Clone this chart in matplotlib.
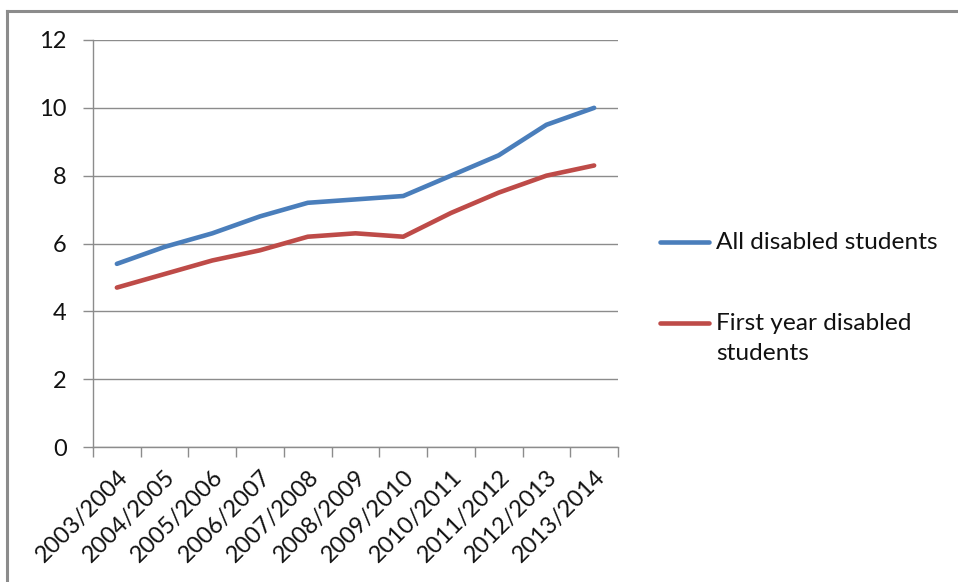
import matplotlib
matplotlib.use("Agg")
import matplotlib.pyplot as plt
from matplotlib.lines import Line2D

years = ["2003/2004", "2004/2005", "2005/2006", "2006/2007", "2007/2008",
         "2008/2009", "2009/2010", "2010/2011", "2011/2012", "2012/2013",
         "2013/2014"]
all_disabled = [5.4, 5.9, 6.3, 6.8, 7.2, 7.3, 7.4, 8.0, 8.6, 9.5, 10.0]
first_year = [4.7, 5.1, 5.5, 5.8, 6.2, 6.3, 6.2, 6.9, 7.5, 8.0, 8.3]
y_ticks = [0, 2, 4, 6, 8, 10, 12]

plt.rcParams['font.family'] = ['Lato', 'DejaVu Sans']

W, H = 958, 582
fig = plt.figure(figsize=(W / 100, H / 100), dpi=100)

# frame lines along the top and left edges of the chart area
fig.add_artist(Line2D([7 / W, 1.0], [1 - 10.5 / H, 1 - 10.5 / H],
                      color="#8c8c8c", lw=2.2, transform=fig.transFigure))
fig.add_artist(Line2D([7 / W, 7 / W], [0.0, 1 - 10.5 / H],
                      color="#8c8c8c", lw=2.2, transform=fig.transFigure))

left, right, top, bottom = 93, 618, 40, 447
ax = fig.add_axes([left / W, 1 - bottom / H, (right - left) / W, (bottom - top) / H])

FS = 17
LEG_FS = 17.6
TXT = "#111111"
x = list(range(len(years)))
blue = "#4a7ebb"
red = "#be4b48"
ax.plot(x, all_disabled, color=blue, lw=3.3, solid_capstyle="round",
        solid_joinstyle="round")
ax.plot(x, first_year, color=red, lw=3.3, solid_capstyle="round",
        solid_joinstyle="round")

ax.set_xlim(-0.5, len(years) - 0.5)
ax.set_ylim(0, 12)
ax.set_yticks(y_ticks)
ax.set_yticklabels([str(v) for v in y_ticks], fontsize=FS, color=TXT)
ax.yaxis.grid(True, color="#8c8c8c", lw=1.0)
ax.set_axisbelow(True)

# category ticks sit between the categories
ax.set_xticks([i - 0.5 for i in range(len(years) + 1)])
ax.set_xticklabels([])
ax.set_xticks(x, minor=True)
ax.set_xticklabels(years, minor=True, rotation=45, ha="right",
                   rotation_mode="anchor", fontsize=FS, color=TXT)
ax.tick_params(axis="x", which="minor", length=0, pad=14)
ax.tick_params(axis="x", which="major", length=7, color="#8c8c8c", width=1.0)
ax.tick_params(axis="y", length=7, color="#8c8c8c", width=1.0, pad=12)

for s in ("top", "right"):
    ax.spines[s].set_visible(False)
for s in ("left", "bottom"):
    ax.spines[s].set_color("#8c8c8c")
    ax.spines[s].set_linewidth(1.0)

# legend drawn beside the plot
def fx(px):
    return px / W

def fy(py):
    return 1 - py / H

fig.add_artist(Line2D([fx(660), fx(709)], [fy(242), fy(242)], color=blue,
                      lw=3.3, solid_capstyle="round", transform=fig.transFigure))
fig.text(fx(716), fy(242), "All disabled students", fontsize=LEG_FS,
         va="center", ha="left", color=TXT)
fig.add_artist(Line2D([fx(660), fx(709)], [fy(323), fy(323)], color=red,
                      lw=3.3, solid_capstyle="round", transform=fig.transFigure))
fig.text(fx(716), fy(323), "First year disabled", fontsize=LEG_FS,
         va="center", ha="left", color=TXT)
fig.text(fx(716), fy(354), "students", fontsize=LEG_FS,
         va="center", ha="left", color=TXT)

fig.savefig("out.png", dpi=100)
